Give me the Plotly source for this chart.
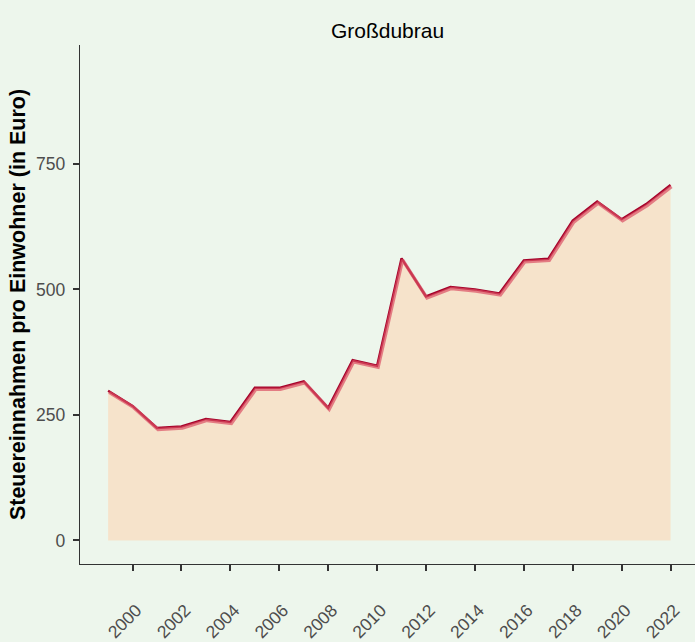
import plotly.graph_objects as go

years = list(range(1999, 2023))
values = [298, 268, 224, 227, 242, 236, 304, 304, 317, 264, 359, 348, 562, 486,
          505, 500, 492, 558, 561, 637, 675, 640, 670, 708]
y_ticks = [0, 250, 500, 750]
x_ticks = list(range(2000, 2023, 2))
title_text = "Großdubrau"
y_title = "Steuereinnahmen pro Einwohner (in Euro)"

bg = "#EDF6EC"
X_RANGE = [1997.85, 2023.0]
Y_RANGE = [-47, 987]

fig = go.Figure()
fig.add_trace(go.Scatter(x=years, y=values, mode="none", fill="tozeroy",
                         fillcolor="#F6E3CB", hoverinfo="skip", showlegend=False))
# soft shadow below the line (same data on a slightly offset overlay axis)
fig.add_trace(go.Scatter(x=years, y=values, mode="lines", xaxis="x2", yaxis="y2",
                         line=dict(color="rgba(220,80,100,0.7)", width=3.4),
                         hoverinfo="skip", showlegend=False))
fig.add_trace(go.Scatter(x=years, y=values, mode="lines",
                         line=dict(color="#A5032A", width=2.4),
                         showlegend=False))

font_family = "Liberation Sans, Arial, sans-serif"
fig.update_layout(
    width=695, height=642,
    margin=dict(l=80, r=0, t=45, b=72),
    paper_bgcolor=bg, plot_bgcolor=bg,
    font=dict(family=font_family, color="#000000"),
    title=dict(text=title_text, x=0.5, xref="paper", xanchor="center",
               y=1 - 31 / 642, yref="container", yanchor="middle",
               font=dict(size=21, color="#000000", family=font_family)),
    showlegend=False,
    xaxis2=dict(overlaying="x", range=[X_RANGE[0] - 0.04, X_RANGE[1] - 0.04],
                visible=False, showgrid=False),
    yaxis2=dict(overlaying="y", range=[Y_RANGE[0] + 3, Y_RANGE[1] + 3],
                visible=False, showgrid=False),
)
fig.update_layout(xaxis=dict(
    range=X_RANGE, tickvals=x_ticks, ticktext=[str(t) for t in x_ticks],
    tickangle=-45, ticks="outside", ticklen=6, tickwidth=2, tickcolor="#333333",
    showline=True, linecolor="#333333", linewidth=1.2, showgrid=False, zeroline=False,
    tickfont=dict(size=17.5, color="#4D4D4D"), ticklabelstandoff=22, ticklabelshift=4,
))
fig.update_layout(yaxis=dict(
    range=Y_RANGE, tickvals=y_ticks, ticks="outside", ticklen=6, tickwidth=2,
    tickcolor="#333333", showline=True, linecolor="#333333", linewidth=1.2,
    showgrid=False, zeroline=False, tickfont=dict(size=17.5, color="#4D4D4D"),
    ticklabelstandoff=4,
    title=dict(text="<b>" + y_title + "</b>", standoff=4,
               font=dict(size=21.5, color="#000000")),
))
# remove the browser's default page margin so the figure fills the window exactly
page_fix = ("document.body.style.margin='0';document.body.style.padding='0';"
            "document.documentElement.style.overflow='hidden';"
            "document.body.style.background='" + bg + "';")
fig.write_html("out.html", post_script=page_fix,
               config={"displayModeBar": False, "staticPlot": True})
